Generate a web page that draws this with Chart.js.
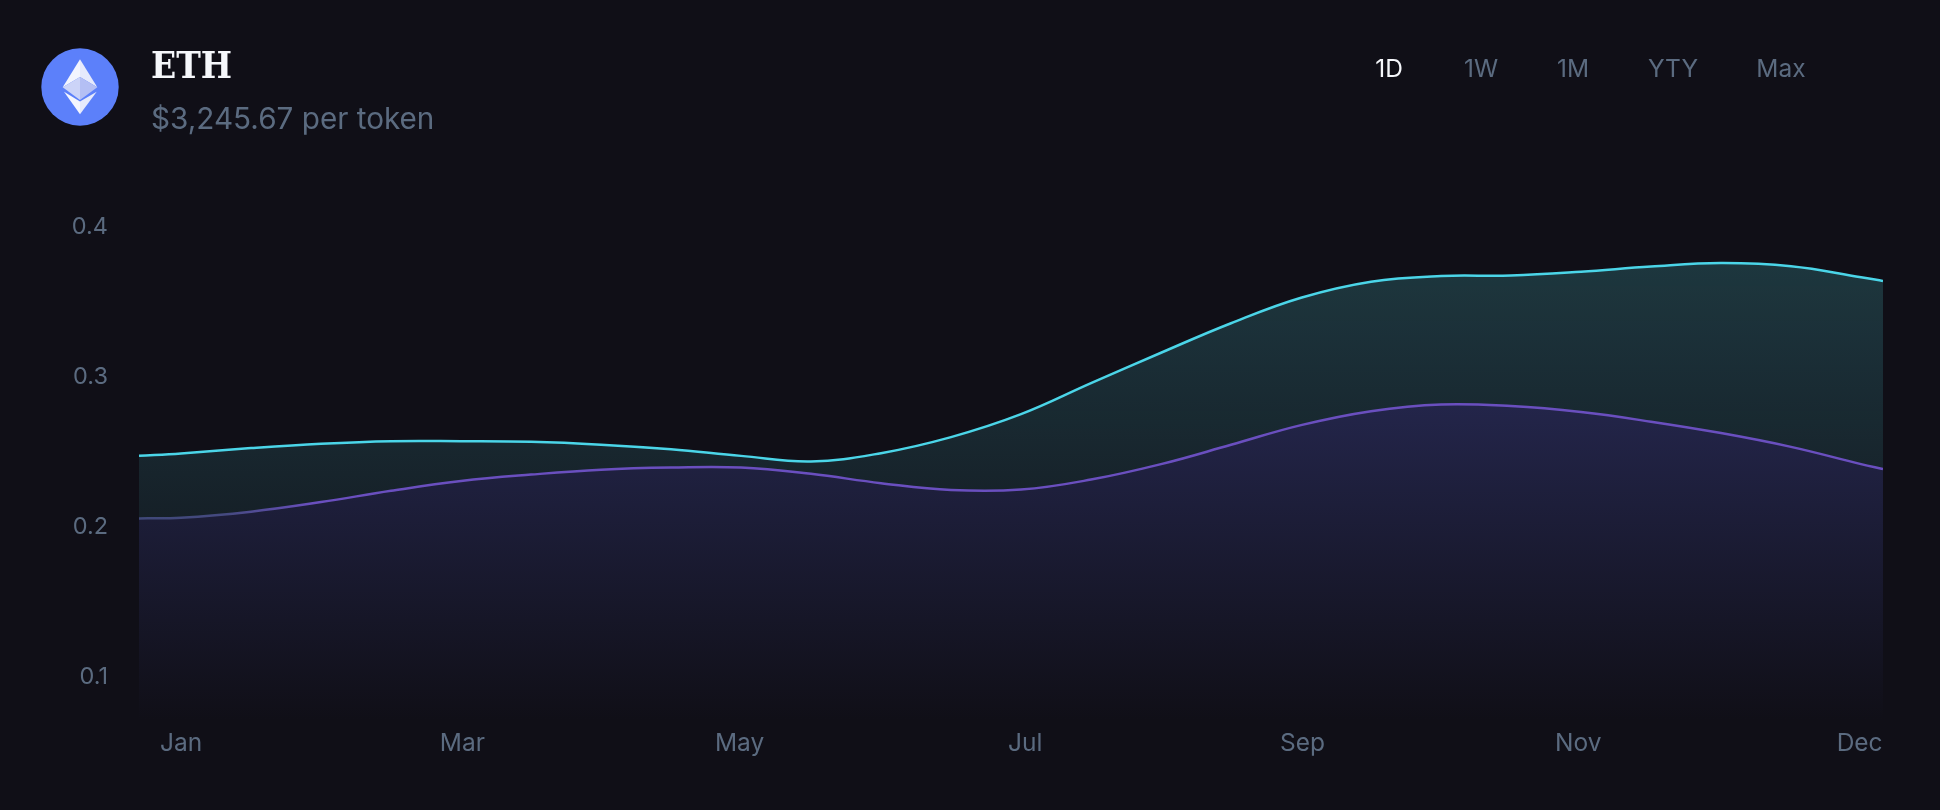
<!DOCTYPE html>
<html lang="en">
<head>
<meta charset="utf-8">
<title>ETH</title>
<script src="https://cdn.jsdelivr.net/npm/chart.js@4"></script>
<style>
    html, body { margin: 0; padding: 0; width: 1940px; height: 810px; overflow: hidden; background: #100f17; }
    body { position: relative; font-family: Inter, sans-serif; }
    #priceChart { position: absolute; left: 0; top: 0; }
    .coin-icon { position: absolute; left: 41px; top: 48px; }
    .coin-name { position: absolute; left: 151px; top: 41px; font: bold 38px/48px "DejaVu Serif", serif; color: #f5f7fb; transform: scaleX(0.87); transform-origin: left center; }
    .coin-price { position: absolute; left: 151px; top: 98.5px; font-size: 29.7px; line-height: 38px; color: #5b6b80; white-space: nowrap; }
    .range-tab { position: absolute; top: 52px; font-size: 24.5px; line-height: 32px; color: #5b6b80; transform: translateX(-50%); }
    .range-tab.active { color: #f5f7fb; }
</style>
</head>
<body>
<canvas id="priceChart" width="1940" height="810"></canvas>

<svg class="coin-icon" width="78" height="78" viewBox="41 48 78 78">
    <circle cx="80" cy="87" r="38.7" fill="#5c80fa"/>
    <polygon points="80,59.3 62.7,87.3 80,77" fill="#f3f5fe"/>
    <polygon points="80,59.3 97.3,87.3 80,77" fill="#e6eafc"/>
    <polygon points="80,77 62.7,87.3 80,100" fill="#ccd4f8"/>
    <polygon points="80,77 97.3,87.3 80,100" fill="#b4bff4"/>
    <polygon points="64,91.7 80,101.5 80,114.3" fill="#f6f7fe"/>
    <polygon points="96.7,91.7 80,101.5 80,114.3" fill="#e6eafc"/>
</svg>
<div class="coin-name">ETH</div>
<div class="coin-price">$3,245.67 per token</div>
<div id="rangeTabs"></div>

<script>
// Month labels and where they sit along the x axis
const monthLabels = ['Jan', 'Mar', 'May', 'Jul', 'Sep', 'Nov', 'Dec'];
const monthSlots = [0, 2.01, 3.99, 6.03, 8.01, 9.98, 11.99];
const yTicks = [0.1, 0.2, 0.3, 0.4];

// Sample positions shared by both series
const sampleSlots = [-0.3, 0, 0.5, 1, 1.5, 2, 2.5, 3, 3.5, 4, 4.5, 5, 5.5, 6, 6.5, 7, 7.5, 8, 8.5, 9, 9.5, 10, 10.5, 11, 11.5, 12, 12.157];
const cyanValues = [0.2473, 0.2489, 0.2525, 0.2554, 0.2571, 0.2571, 0.2567, 0.2548, 0.2517, 0.2473, 0.2436, 0.2491, 0.2598, 0.2751, 0.2958, 0.3161, 0.3358, 0.3528, 0.3635, 0.3673, 0.3676, 0.3701, 0.3736, 0.3759, 0.3738, 0.3665, 0.364];
const purpleValues = [0.2056, 0.206, 0.2101, 0.2165, 0.224, 0.2305, 0.2348, 0.2381, 0.2395, 0.2395, 0.2353, 0.2291, 0.2245, 0.2248, 0.2315, 0.2418, 0.2547, 0.2678, 0.2771, 0.2816, 0.2805, 0.2765, 0.2701, 0.2625, 0.2533, 0.2418, 0.2385];

const rangeTabs = ['1D', '1W', '1M', 'YTY', 'Max'];
const rangeTabCenters = [1389, 1481, 1573, 1673, 1781];

document.addEventListener('DOMContentLoaded', () => {
    const tabs = document.getElementById('rangeTabs');
    rangeTabs.forEach((name, i) => {
        const tab = document.createElement('div');
        tab.className = i === 0 ? 'range-tab active' : 'range-tab';
        tab.style.left = rangeTabCenters[i] + 'px';
        tab.textContent = name;
        tabs.appendChild(tab);
    });

    const toPoints = (values) => values.map((y, i) => ({ x: sampleSlots[i], y }));

    // Area fills fade out towards the bottom of the plot
    const tealFill = (context) => {
        const { chart } = context;
        if (!chart.chartArea) return 'transparent';
        const y = chart.scales.y;
        const g = chart.ctx.createLinearGradient(0, y.getPixelForValue(Math.max(...cyanValues)), 0, chart.chartArea.bottom);
        g.addColorStop(0, 'rgba(84, 214, 222, 0.2)');
        g.addColorStop(1, 'rgba(84, 214, 222, 0)');
        return g;
    };

    const purpleFill = (context) => {
        const { chart } = context;
        if (!chart.chartArea) return 'transparent';
        const y = chart.scales.y;
        const g = chart.ctx.createLinearGradient(0, y.getPixelForValue(Math.max(...purpleValues)), 0, chart.chartArea.bottom);
        g.addColorStop(0, 'rgb(35, 37, 74)');
        g.addColorStop(1, 'rgb(16, 15, 23)');
        return g;
    };

    // The purple stroke starts out dimmer on the left side
    const purpleStroke = (context) => {
        const { chart } = context;
        if (!chart.chartArea) return '#6a4fbf';
        const { left, right } = chart.chartArea;
        const g = chart.ctx.createLinearGradient(left, 0, right, 0);
        g.addColorStop(0, '#3f4878');
        g.addColorStop(0.05, '#454a80');
        g.addColorStop(0.1, '#6a4fbf');
        g.addColorStop(1, '#6a4fbf');
        return g;
    };

    new Chart(document.getElementById('priceChart'), {
        type: 'line',
        data: {
            datasets: [
                {
                    label: 'Purple',
                    data: toPoints(purpleValues),
                    borderColor: purpleStroke,
                    backgroundColor: purpleFill,
                    borderWidth: 2.5,
                    fill: 'start',
                    pointRadius: 0,
                    tension: 0.4
                },
                {
                    label: 'Cyan',
                    data: toPoints(cyanValues),
                    borderColor: '#4bd5e8',
                    backgroundColor: tealFill,
                    borderWidth: 2.5,
                    fill: 'start',
                    pointRadius: 0,
                    tension: 0.4
                }
            ]
        },
        options: {
            responsive: false,
            animation: false,
            layout: { padding: { top: 197, right: 57, left: 0, bottom: 0 } },
            plugins: {
                legend: { display: false },
                tooltip: { enabled: false }
            },
            scales: {
                x: {
                    type: 'linear',
                    min: -0.3,
                    max: 12.157,
                    grid: { display: false, drawTicks: false },
                    border: { display: false },
                    afterFit: (scale) => { scale.height = 90; },
                    afterBuildTicks: (scale) => {
                        scale.ticks = monthSlots.map(value => ({ value }));
                    },
                    ticks: {
                        autoSkip: false,
                        maxRotation: 0,
                        padding: 9,
                        color: '#5b6b80',
                        font: { family: 'Inter', size: 24.5 },
                        callback: (value) => monthLabels[monthSlots.indexOf(value)]
                    }
                },
                y: {
                    min: 0.0711,
                    max: 0.42,
                    grid: { display: false, drawTicks: false },
                    border: { display: false },
                    afterFit: (scale) => { scale.width = 139; },
                    afterBuildTicks: (scale) => {
                        scale.ticks = yTicks.map(value => ({ value }));
                    },
                    ticks: {
                        padding: 31,
                        color: '#5b6b80',
                        font: { family: 'Inter', size: 23.5 },
                        callback: (value) => value.toFixed(1)
                    }
                }
            }
        }
    });
});
</script>
</body>
</html>
